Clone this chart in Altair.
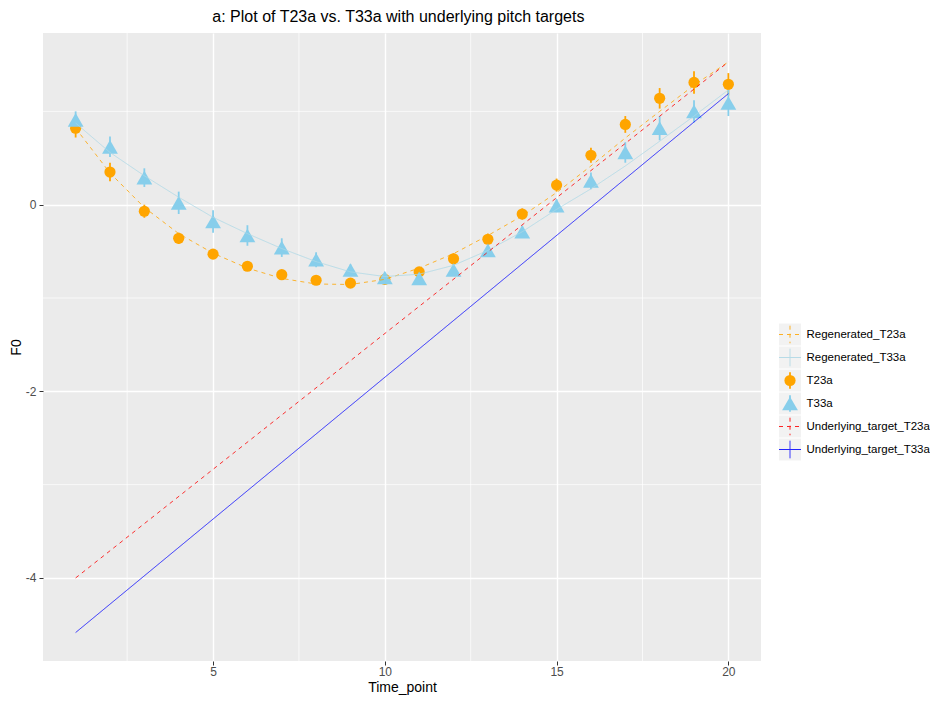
import altair as alt
import pandas as pd

# ---------------- data ----------------
time_points = list(range(1, 21))
t23a = [0.82, 0.35, -0.07, -0.36, -0.53, -0.66, -0.75, -0.81, -0.84, -0.80,
        -0.72, -0.58, -0.37, -0.10, 0.21, 0.53, 0.86, 1.14, 1.31, 1.29]
t23a_se = [0.10, 0.10, 0.07, 0.06, 0.05, 0.05, 0.05, 0.05, 0.05, 0.05,
           0.05, 0.06, 0.06, 0.06, 0.07, 0.08, 0.09, 0.11, 0.12, 0.12]
t33a = [0.91, 0.62, 0.29, 0.02, -0.18, -0.33, -0.46, -0.59, -0.70, -0.78,
        -0.79, -0.70, -0.49, -0.29, -0.01, 0.255, 0.56, 0.82, 1.00, 1.09]
t33a_se = [0.09, 0.11, 0.10, 0.12, 0.12, 0.11, 0.10, 0.08, 0.06, 0.05,
           0.06, 0.06, 0.06, 0.06, 0.07, 0.09, 0.11, 0.13, 0.12, 0.14]
regen_t23a = [0.82, 0.34, -0.03, -0.31, -0.52, -0.68, -0.79, -0.85, -0.855, -0.80,
              -0.68, -0.525, -0.33, -0.12, 0.13, 0.415, 0.715, 1.00, 1.28, 1.53]
regen_t33a = [0.875, 0.56, 0.31, 0.08, -0.135, -0.31, -0.47, -0.61, -0.72, -0.77,
              -0.745, -0.65, -0.49, -0.29, -0.05, 0.17, 0.415, 0.68, 0.95, 1.23]
target_x = [1, 20]
target_t23a = [-4.00, 1.53]
target_t33a = [-4.585, 1.19]

series_names = ["Regenerated_T23a", "Regenerated_T33a", "T23a", "T33a",
                "Underlying_target_T23a", "Underlying_target_T33a"]
line_series = ["Regenerated_T23a", "Regenerated_T33a",
               "Underlying_target_T23a", "Underlying_target_T33a"]
point_series = ["T23a", "T33a"]
series_colors = ["#FFA500", "#ADD8E6", "#FFA500", "#87CEEB", "#FF0000", "#0000FF"]
line_dashes = [[4, 4], [1, 0], [4, 4], [1, 0]]

x_major = [5, 10, 15, 20]
x_minor = [2.5, 7.5, 12.5, 17.5]
y_major = [-4, -2, 0]
y_minor = [-3, -1, 1]

# ---------------- tables ----------------
lines_df = pd.concat([
    pd.DataFrame({"series": "Regenerated_T23a", "x": time_points, "y": regen_t23a}),
    pd.DataFrame({"series": "Regenerated_T33a", "x": time_points, "y": regen_t33a}),
    pd.DataFrame({"series": "Underlying_target_T23a", "x": target_x, "y": target_t23a}),
    pd.DataFrame({"series": "Underlying_target_T33a", "x": target_x, "y": target_t33a}),
], ignore_index=True)

pts_df = pd.concat([
    pd.DataFrame({"series": "T23a", "x": time_points, "y": t23a, "se": t23a_se}),
    pd.DataFrame({"series": "T33a", "x": time_points, "y": t33a, "se": t33a_se}),
], ignore_index=True)
pts_df["lo"] = pts_df["y"] - pts_df["se"]
pts_df["hi"] = pts_df["y"] + pts_df["se"]

legend_df = pd.DataFrame({"series": series_names})

# ---------------- scales / axes ----------------
color_scale = alt.Scale(domain=series_names, range=series_colors)
dash_scale = alt.Scale(domain=line_series, range=line_dashes)
shape_scale = alt.Scale(domain=point_series, range=["circle", "triangle-up"])
size_scale = alt.Scale(domain=point_series, range=[125, 250])

xs = alt.Scale(domain=[0.05, 20.95], nice=False, zero=False)
ys = alt.Scale(domain=[-4.89, 1.84], nice=False, zero=False)

axis_common = dict(
    grid=True, gridColor="white", gridWidth=1.4,
    domain=False, tickColor="#333333", tickSize=4, tickWidth=1,
    labelColor="#4D4D4D", labelFontSize=12,
    titleColor="black", titleFontSize=14, titleFontWeight="normal",
)
x_axis = alt.Axis(values=x_major, labelPadding=1, titlePadding=3.5, **axis_common)
y_axis = alt.Axis(values=y_major, labelPadding=3, titlePadding=2,
                  labelExpr="'' + datum.value", **axis_common)


def X(field):
    return alt.X(field, type="quantitative", scale=xs, axis=x_axis, title="Time_point")


def Y(field):
    return alt.Y(field, type="quantitative", scale=ys, axis=y_axis, title="F0")


minor_x = alt.Chart(pd.DataFrame({"v": x_minor})).mark_rule(
    color="white", strokeWidth=0.7).encode(x=X("v"))
minor_y = alt.Chart(pd.DataFrame({"v": y_minor})).mark_rule(
    color="white", strokeWidth=0.7).encode(y=Y("v"))

lines = alt.Chart(lines_df).mark_line(strokeWidth=1.0, strokeOpacity=0.8).encode(
    x=X("x"), y=Y("y"),
    color=alt.Color("series:N", scale=color_scale, legend=None),
    strokeDash=alt.StrokeDash("series:N", scale=dash_scale, legend=None),
)

errbars = alt.Chart(pts_df).mark_rule(strokeWidth=1.8).encode(
    x=X("x"), y=Y("lo"), y2="hi",
    color=alt.Color("series:N", scale=color_scale, legend=None),
)

points = alt.Chart(pts_df).mark_point(filled=True, opacity=1).encode(
    x=X("x"), y=Y("y"),
    color=alt.Color("series:N", scale=color_scale, legend=None),
    shape=alt.Shape("series:N", scale=shape_scale, legend=None),
    size=alt.Size("series:N", scale=size_scale, legend=None),
)

main = alt.layer(minor_x, minor_y, errbars, points, lines).properties(
    width=718, height=628,
    view=alt.ViewBackground(fill="#EBEBEB", stroke=None),
)

# ---------------- hand-built legend (ggplot style keys) ----------------
leg_y = alt.Y("series:N",
              scale=alt.Scale(domain=series_names, type="point", range=[290, 428], padding=0.5),
              axis=alt.Axis(orient="right", title=None, domain=False, ticks=False,
                            grid=False, labelPadding=5, labelFontSize=11.5,
                            labelColor="black"))
leg_base = alt.Chart(legend_df).encode(y=leg_y)

keys = leg_base.mark_square(size=484, color="#F2F2F2", opacity=1, filled=True)
line_keys = leg_base.transform_filter(
    alt.FieldOneOfPredicate(field="series", oneOf=line_series)
).mark_point(shape="M-1,0H1M0,-0.8V0.8", size=484, filled=False,
             strokeWidth=1.0, opacity=0.85).encode(
    color=alt.Color("series:N", scale=color_scale, legend=None),
    strokeDash=alt.StrokeDash("series:N", scale=dash_scale, legend=None),
)
bar_keys = leg_base.transform_filter(
    alt.FieldOneOfPredicate(field="series", oneOf=point_series)
).mark_point(shape="M0,-0.75V0.75", size=484, filled=False,
             strokeWidth=1.8, opacity=1).encode(
    color=alt.Color("series:N", scale=color_scale, legend=None),
)
marker_keys = leg_base.transform_filter(
    alt.FieldOneOfPredicate(field="series", oneOf=point_series)
).mark_point(filled=True, opacity=1).encode(
    color=alt.Color("series:N", scale=color_scale, legend=None),
    shape=alt.Shape("series:N", scale=shape_scale, legend=None),
    size=alt.Size("series:N", scale=size_scale, legend=None),
)

legend = alt.layer(keys, line_keys, bar_keys, marker_keys).properties(
    width=22, height=628,
    view=alt.ViewBackground(fill=None, stroke=None),
)

chart = alt.hconcat(main, legend, spacing=15).properties(
    title=alt.Title("a: Plot of T23a vs. T33a with underlying pitch targets",
                    fontSize=16, fontWeight="normal", color="black",
                    anchor="start", dx=203, offset=8),
    padding={"left": 1, "top": 0, "right": 0, "bottom": 1.5},
).configure(font="Liberation Sans").configure_view(stroke=None)

chart.save("out.html", embed_options={"renderer": "svg", "actions": False})
